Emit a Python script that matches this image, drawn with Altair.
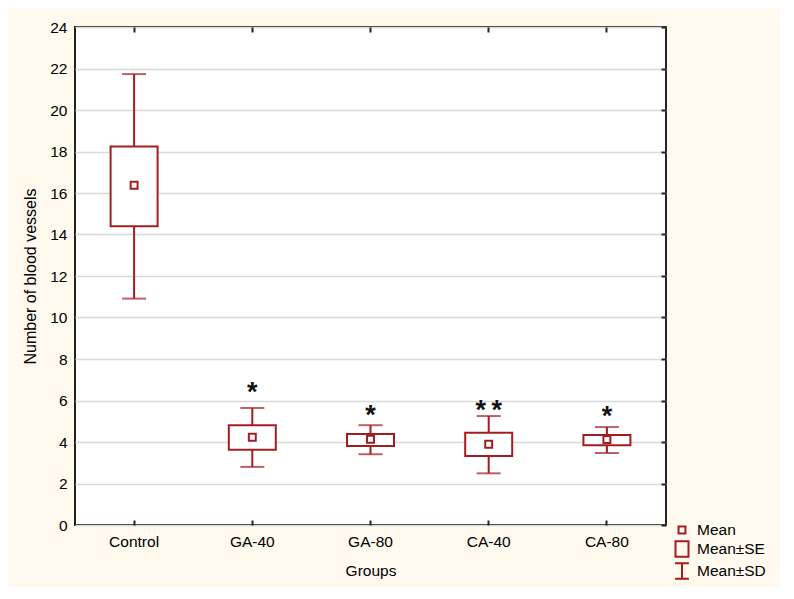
import altair as alt
import pandas as pd

groups = ["Control", "GA-40", "GA-80", "CA-40", "CA-80"]
mean = [16.37, 4.23, 4.13, 3.89, 4.12]
se_low = [14.40, 3.63, 3.81, 3.33, 3.84]
se_high = [18.24, 4.81, 4.39, 4.45, 4.34]
sd_low = [10.91, 2.80, 3.41, 2.49, 3.47]
sd_high = [21.73, 5.64, 4.81, 5.25, 4.72]
stars = ["", "*", "*", "*\u2009*", "*"]
star_y = [None, 6.72, 5.58, 5.82, 5.56]

legend_items = ["Mean", "Mean±SE", "Mean±SD"]
y_ticks = list(range(0, 25, 2))

RED = "#A31C22"
FONT = "Liberation Sans"

df = pd.DataFrame({
    "group": groups, "mean": mean, "se_low": se_low, "se_high": se_high,
    "sd_low": sd_low, "sd_high": sd_high, "kind": ["Mean"] * 5,
})
star_df = pd.DataFrame({"group": groups, "star": stars, "sy": star_y}).dropna()

xscale = alt.Scale(domain=groups, paddingInner=0, paddingOuter=0)
yscale = alt.Scale(domain=[0, 24], nice=False, zero=True)

x_bottom = alt.X("group:N", scale=xscale, sort=groups, axis=alt.Axis(
    orient="bottom", title="Groups", labelAngle=0, offset=-5, tickSize=5,
    tickWidth=2, tickColor="#222", domain=False, grid=False, labelPadding=9,
    labelFontSize=15.5, labelFont=FONT, labelColor="#000",
    titleFontSize=15.5, titleFont=FONT, titleFontWeight="normal",
    titleColor="#000", titlePadding=14))
x_top = alt.X("group:N", scale=xscale, sort=groups, axis=alt.Axis(
    orient="top", title=None, labels=False, offset=-5, tickSize=5,
    tickWidth=2, tickColor="#222", domain=False, grid=False))
x_none = alt.X("group:N", scale=xscale, sort=groups, axis=None)

y_left = alt.Y("sd_low:Q", scale=yscale, axis=alt.Axis(
    orient="left", values=y_ticks, title="Number of blood vessels",
    ticks=False, domain=False, grid=True, gridColor="#D9D9D9", gridWidth=1.5,
    labelPadding=8, labelFontSize=15.5, labelFont=FONT, labelColor="#000",
    titleFontSize=16, titleFont=FONT, titleFontWeight="normal",
    titleColor="#000", titlePadding=11))
y_right = alt.Y("sd_low:Q", scale=yscale, axis=alt.Axis(
    orient="right", values=y_ticks, title=None, labels=False, offset=-5,
    tickSize=5, tickWidth=2, tickColor="#222", domain=False, grid=False))

base = alt.Chart(df)

sd_rule = base.mark_rule(color=RED, strokeWidth=2).encode(
    x=x_bottom, y=y_left, y2="sd_high:Q")
cap_low = base.mark_tick(color=RED, size=24, thickness=2, orient="horizontal").encode(
    x=x_top, y=y_right)
cap_high = base.mark_tick(color=RED, size=24, thickness=2, orient="horizontal").encode(
    x=x_none, y=alt.Y("sd_high:Q", scale=yscale, axis=None))
se_box = base.mark_bar(size=47, fill="white", stroke=RED, strokeWidth=2).encode(
    x=x_none, y=alt.Y("se_low:Q", scale=yscale, axis=None), y2="se_high:Q")
mean_pt = base.mark_point(filled=False, size=300, strokeWidth=2, color=RED, opacity=1).encode(
    x=x_none, y=alt.Y("mean:Q", scale=yscale, axis=None),
    shape=alt.Shape("kind:N", scale=alt.Scale(
        domain=legend_items,
        range=["M-0.4,-0.4H0.4V0.4H-0.4Z",
               "M-0.75,-0.9H0.75V0.9H-0.75Z",
               "M-0.8,-0.9H0.8M0,-0.9V0.9M-0.8,0.9H0.8"]),
        legend=alt.Legend(title=None, orient="none", legendX=597, legendY=493,
                          symbolSize=300, symbolStrokeColor=RED,
                          symbolFillColor="transparent", symbolStrokeWidth=2,
                          symbolOpacity=1, labelFontSize=15.5, labelFont=FONT,
                          labelColor="#000", labelOffset=5, rowPadding=-4,
                          padding=0)))
star_txt = alt.Chart(star_df).mark_text(
    fontSize=27, fontWeight="bold", font=FONT, color="#111",
    baseline="alphabetic", dy=15).encode(
    x=x_none, y=alt.Y("sy:Q", scale=yscale, axis=None), text="star:N")

chart = alt.layer(sd_rule, cap_low, cap_high, se_box, mean_pt, star_txt).resolve_axis(
    x="independent", y="independent"
).properties(
    width=591, height=498,
    autosize=alt.AutoSizeParams(type="none"),
    padding={"left": 67, "top": 19, "right": 114, "bottom": 62},
    background="#FFF9EE",
).configure_view(fill="white", stroke="#222", strokeWidth=2)

chart.save("out.html", embed_options={"renderer": "svg", "actions": False})
